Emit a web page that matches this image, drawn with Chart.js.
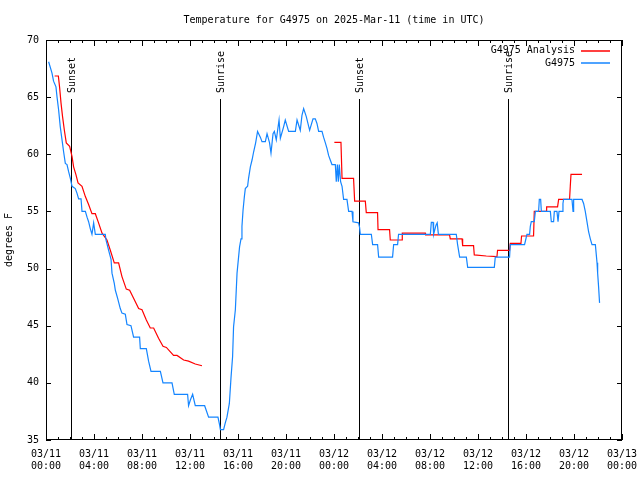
<!DOCTYPE html>
<html>
<head>
<meta charset="utf-8">
<script src="https://cdn.jsdelivr.net/npm/chart.js@4"></script>
<style>
  html, body { margin: 0; padding: 0; background: #fff; }
  canvas { display: block; }
</style>
</head>
<body>
<canvas id="myChart" width="640" height="480"></canvas>
<script>
// hours since 03/11 00:00 UTC
const xTickLabels = [
  ['03/11', '00:00'], ['03/11', '04:00'], ['03/11', '08:00'], ['03/11', '12:00'],
  ['03/11', '16:00'], ['03/11', '20:00'], ['03/12', '00:00'], ['03/12', '04:00'],
  ['03/12', '08:00'], ['03/12', '12:00'], ['03/12', '16:00'], ['03/12', '20:00'],
  ['03/13', '00:00']
]

const eventLabels = ['Sunset', 'Sunrise', 'Sunset', 'Sunrise']
const eventHours = [2.11, 14.47, 26.12, 38.47]

// G4975 Analysis (red), null = gap
const analysisHours = [
  0.72, 1.03, 1.13, 1.25, 1.38, 1.53, 1.69, 1.97, 2.17, 2.3, 2.5, 2.67, 3.0, 3.28, 3.55, 3.83,
  4.11, 4.38, 4.67, 5.08, 5.36, 5.69, 6.05, 6.33, 6.69, 6.97, 7.3, 7.72, 8.0, 8.36, 8.69, 8.97,
  9.38, 9.75, 10.03, 10.63, 10.92, 11.47, 11.88, 12.44, 13.0,
  18.5,
  24.03, 24.58, 24.67, 25.63, 25.72, 26.61, 26.69, 27.63, 27.67, 28.63, 28.69, 29.67, 29.69, 31.61,
  31.63, 33.63, 33.69, 34.67, 34.72, 35.63, 35.69, 36.69, 37.58, 37.63, 38.63, 38.69, 39.58, 39.63,
  40.63, 40.69, 41.67, 41.72, 42.63, 42.72, 43.63, 43.69, 43.75, 44.67
]
const analysisTemps = [
  66.85, 66.85, 65.9, 64.5, 63.3, 62.1, 61.0, 60.7, 59.8, 58.9, 58.2, 57.5, 57.2, 56.3, 55.6, 54.8,
  54.8, 54.0, 53.1, 52.5, 51.6, 50.5, 50.5, 49.3, 48.2, 48.1, 47.4, 46.5, 46.4, 45.5, 44.8, 44.8,
  43.9, 43.2, 43.1, 42.4, 42.4, 42.0, 41.9, 41.65, 41.5,
  null,
  61.05, 61.05, 57.9, 57.9, 55.9, 55.9, 54.9, 54.9, 53.4, 53.4, 52.5, 52.5, 53.1, 53.1,
  52.95, 52.95, 52.6, 52.6, 52.0, 52.0, 51.2, 51.1, 51.05, 51.6, 51.6, 52.2, 52.2, 52.85,
  52.85, 55.0, 55.0, 55.4, 55.4, 56.05, 56.05, 57.2, 58.25, 58.25
]

// G4975 observations (blue)
const obsHours = [
  0.22, 0.5, 0.63, 0.83, 0.92, 1.05, 1.19, 1.33, 1.47, 1.61, 1.75, 1.88, 2.03, 2.17, 2.44, 2.58,
  2.72, 2.92, 3.0, 3.28, 3.42, 3.55, 3.69, 3.83, 3.97, 4.11, 4.94, 5.0, 5.22, 5.42, 5.5, 5.69,
  5.78, 5.97, 6.19, 6.33, 6.61, 6.75, 7.08, 7.3, 7.8, 7.86, 8.36, 8.55, 8.75, 9.53, 9.75, 10.5,
  10.69, 11.8, 11.88, 12.03, 12.22, 12.44, 13.22, 13.55, 14.33, 14.47, 14.53, 14.8, 14.94, 15.08,
  15.28, 15.42, 15.55, 15.63, 15.78, 15.92, 16.13, 16.25, 16.33, 16.42, 16.53, 16.61, 16.8, 16.88,
  17.03, 17.17, 17.3, 17.47, 17.63, 17.86, 18.0, 18.28, 18.42, 18.63, 18.75, 18.92, 19.03, 19.19,
  19.42, 19.53, 19.8, 19.94, 20.22, 20.78, 20.92, 21.19, 21.33, 21.47, 21.69, 21.97, 22.25, 22.44,
  22.58, 22.72, 23.0, 23.13, 23.28, 23.42, 23.55, 23.69, 23.83, 24.11, 24.19, 24.28, 24.36, 24.44,
  24.55, 24.67, 24.8, 25.08, 25.22, 25.5, 25.58, 26.05, 26.13, 26.19, 27.11, 27.22, 27.63, 27.72,
  28.88, 28.97, 29.3, 29.38, 32.03, 32.11, 32.25, 32.3, 32.5, 32.6, 32.7, 34.19, 34.3, 34.47,
  35.03, 35.14, 37.36, 37.44, 38.63, 38.69, 39.88, 39.97, 40.08, 40.3, 40.36, 40.44, 40.69, 40.78,
  41.05, 41.11, 41.22, 41.28, 42.03, 42.11, 42.3, 42.36, 42.58, 42.67, 42.75, 43.03, 43.08, 43.13,
  43.83, 43.92, 43.97, 44.67, 44.8, 44.94, 45.08, 45.22, 45.36, 45.5, 45.78, 45.92, 45.97, 46.05,
  46.13
]
const obsTemps = [
  68.1, 67.1, 66.4, 65.9, 65.0, 63.9, 62.4, 61.3, 60.2, 59.2, 59.1, 58.5, 57.9, 57.2, 57.0, 56.6,
  56.1, 56.1, 55.0, 55.0, 54.5, 54.1, 53.5, 53.0, 54.0, 53.0, 53.0, 52.5, 51.6, 50.8, 49.6, 48.7,
  48.1, 47.4, 46.5, 46.1, 46.0, 45.1, 45.0, 44.0, 44.0, 43.0, 43.0, 41.9, 41.0, 41.0, 40.0, 40.0,
  39.0, 39.0, 38.0, 38.5, 39.0, 38.0, 38.0, 37.0, 37.0, 36.3, 35.9, 35.9, 36.5, 37.0,
  38.2, 40.5, 42.3, 44.9, 46.4, 49.6, 51.9, 52.6, 53.7, 55.1, 56.3, 57.0, 57.2, 57.9,
  58.9, 59.5, 60.2, 61.0, 62.0, 61.5, 61.1, 61.1, 61.8, 61.0, 60.1, 61.8, 62.0, 61.25,
  63.0, 61.4, 62.4, 63.0, 62.0, 62.0, 63.0, 62.1, 63.4, 64.0, 63.3, 62.1, 63.1, 63.1,
  62.7, 62.0, 62.0, 61.5, 61.0, 60.5, 59.9, 59.5, 59.1, 59.1, 57.6, 59.1, 57.6, 59.1,
  57.6, 57.2, 56.05, 56.05, 55.0, 55.0, 54.1, 54.0, 53.6, 53.0, 53.0, 52.1, 52.1, 51.0,
  51.0, 52.1, 52.1, 53.0, 53.0, 54.05, 54.05, 53.0, 53.8, 54.0, 53.0, 53.0, 52.1, 51.0,
  51.0, 50.1, 50.1, 51.0, 51.0, 52.1, 52.1, 52.5, 53.0, 53.0, 53.7, 54.1, 54.1, 55.0,
  55.0, 56.05, 56.05, 55.0, 55.0, 54.1, 54.1, 55.0, 55.0, 54.1, 55.0, 55.0, 55.7, 56.05,
  56.05, 55.0, 56.05, 56.05, 55.7, 55.0, 54.1, 53.2, 52.6, 52.1, 52.1, 50.5, 49.6, 48.4,
  47.0
]

const monoFont = { family: 'DejaVu Sans Mono', size: 10, weight: 'normal' }

function toPoints(hours, temps) {
  return hours.map((h, i) => ({ x: h, y: temps[i] }))
}

// gnuplot-ish frame, inward ticks, sun events and legend
const gnuplotLook = {
  id: 'gnuplotLook',
  beforeDatasetsDraw(chart) {
    let ctx = chart.ctx
    let area = chart.chartArea
    let xs = chart.scales.x
    ctx.save()
    ctx.strokeStyle = '#000'
    ctx.fillStyle = '#000'
    ctx.lineWidth = 1
    ctx.font = '10px "DejaVu Sans Mono"'
    eventHours.forEach((h, i) => {
      let px = Math.round(xs.getPixelForValue(h)) + 0.5
      ctx.beginPath()
      ctx.moveTo(px, area.top + 59)
      ctx.lineTo(px, area.bottom)
      ctx.stroke()
      ctx.save()
      ctx.translate(px + 1, area.top + 53)
      ctx.rotate(-Math.PI / 2)
      ctx.textAlign = 'left'
      ctx.textBaseline = 'middle'
      ctx.fillText(eventLabels[i], 0, 0)
      ctx.restore()
    })
    ctx.restore()
  },
  afterDatasetsDraw(chart) {
    let ctx = chart.ctx
    let area = chart.chartArea
    let xs = chart.scales.x
    let ys = chart.scales.y
    ctx.save()
    ctx.strokeStyle = '#000'
    ctx.lineWidth = 1
    ctx.strokeRect(area.left + 0.5, area.top + 0.5, area.right - area.left - 1, area.bottom - area.top - 1)
    ctx.beginPath()
    for (let h = 0; h <= 48; h++) {
      let px = Math.round(xs.getPixelForValue(h)) + 0.5
      let len = h % 4 === 0 ? 6 : 3
      ctx.moveTo(px, area.bottom)
      ctx.lineTo(px, area.bottom - len)
      ctx.moveTo(px, area.top)
      ctx.lineTo(px, area.top + len)
    }
    for (let t = 35; t <= 70; t += 5) {
      let py = Math.round(ys.getPixelForValue(t)) + 0.5
      ctx.moveTo(area.left, py)
      ctx.lineTo(area.left + 5, py)
      ctx.moveTo(area.right, py)
      ctx.lineTo(area.right - 5, py)
    }
    ctx.stroke()

    // legend, top right inside the plot
    ctx.font = '10px "DejaVu Sans Mono"'
    ctx.textAlign = 'right'
    ctx.textBaseline = 'middle'
    chart.data.datasets.forEach((ds, i) => {
      let rowY = area.top + 10.5 + i * 12.5
      ctx.fillStyle = '#000'
      ctx.fillText(ds.label, area.right - 47, rowY)
      ctx.strokeStyle = ds.borderColor
      ctx.lineWidth = 1.5
      ctx.beginPath()
      ctx.moveTo(area.right - 41, Math.round(rowY))
      ctx.lineTo(area.right - 12, Math.round(rowY))
      ctx.stroke()
    })
    ctx.restore()
  }
}

Chart.defaults.color = '#000'
Chart.defaults.font.family = 'DejaVu Sans Mono'
Chart.defaults.font.size = 10

let ctx = document.querySelector('#myChart').getContext('2d')
let myLineChart = new Chart(ctx, {
  type: 'line',
  data: {
    datasets: [{
      label: 'G4975 Analysis',
      data: toPoints(analysisHours, analysisTemps),
      borderColor: '#ff0000',
      borderWidth: 1.2,
      pointRadius: 0,
      spanGaps: false,
      order: 2
    }, {
      label: 'G4975',
      data: toPoints(obsHours, obsTemps),
      borderColor: '#1485ff',
      borderWidth: 1.2,
      pointRadius: 0,
      order: 1
    }]
  },
  options: {
    responsive: false,
    devicePixelRatio: 1,
    animation: false,
    layout: { padding: { right: 18 } },
    plugins: {
      legend: { display: false },
      tooltip: { enabled: false },
      title: {
        display: true,
        fullSize: false,
        text: 'Temperature for G4975 on 2025-Mar-11 (time in UTC)',
        font: monoFont,
        padding: { top: 14, bottom: 14 }
      }
    },
    scales: {
      x: {
        type: 'linear',
        min: 0,
        max: 48,
        grid: { display: false, drawTicks: false },
        border: { display: false },
        ticks: {
          stepSize: 4,
          maxRotation: 0,
          autoSkip: false,
          padding: 8,
          font: monoFont,
          callback: value => xTickLabels[Math.round(value / 4)]
        },
        afterFit: scale => {
          scale.height = 40
          scale.paddingLeft = 0
          scale.paddingRight = 0
        }
      },
      y: {
        min: 35,
        max: 70,
        grid: { display: false, drawTicks: false },
        border: { display: false },
        ticks: { stepSize: 5, padding: 7, font: monoFont },
        title: {
          display: true,
          text: 'degrees F',
          font: monoFont,
          padding: { top: 3, bottom: 0 }
        },
        afterFit: scale => { scale.width = 46 }
      }
    }
  },
  plugins: [gnuplotLook]
})
</script>
</body>
</html>
